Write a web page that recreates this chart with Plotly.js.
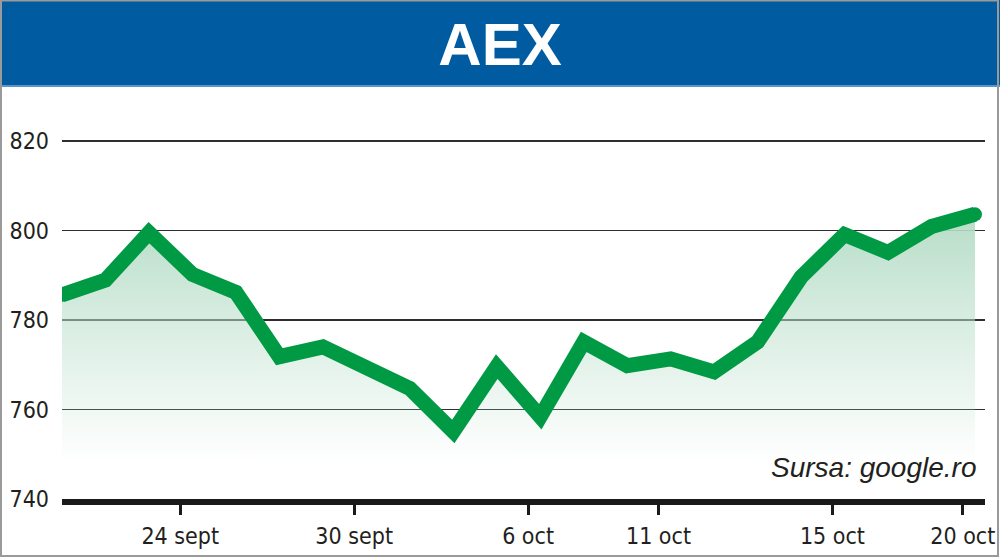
<!DOCTYPE html>
<html>
<head>
<meta charset="utf-8">
<script src="https://cdn.plot.ly/plotly-3.0.1.min.js"></script>
<style>html,body{margin:0;padding:0;background:#fff;}#chart{width:1000px;height:557px;}</style>
</head>
<body>
<div id="chart"></div>
<script>
var dates = ['21 sept','22 sept','23 sept','24 sept','27 sept','28 sept','29 sept','30 sept',
             '1 oct','4 oct','5 oct','6 oct','7 oct','8 oct',
             '11 oct','12 oct','13 oct','14 oct','15 oct',
             '18 oct','19 oct','20 oct'];
var values = [785.6, 788.9, 799.5, 790.2, 786.2, 771.8, 774.0, 769.4,
              764.7, 755.1, 769.6, 758.4, 775.1, 769.8,
              771.3, 768.4, 775.1, 789.6, 799.1,
              795.1, 800.9, 803.6];
var xTicks = ['24 sept','30 sept','6 oct','11 oct','15 oct','20 oct'];
var yTicks = [740, 760, 780, 800, 820];

var W = 1000, H = 557;
var tickPos = xTicks.map(function (t) { return dates.indexOf(t) - 0.28; });
var labelFont = {family: 'DejaVu Sans Condensed, Liberation Sans Narrow, sans-serif', size: 23, color: '#231f20'};

var trace = {
  x: dates, y: values, type: 'scatter', mode: 'lines+markers',
  line: {color: '#009a44', width: 15},
  marker: {color: '#009a44', size: 14},
  fill: 'tozeroy',
  fillgradient: {type: 'vertical', start: 748, stop: 806,
    colorscale: [[0, 'rgba(186,223,202,0)'], [1, 'rgba(180,220,198,1)']]},
  hoverinfo: 'skip'
};
var layout = {
  width: W, height: H,
  margin: {l: 0, r: 0, t: 0, b: 0},
  paper_bgcolor: '#fff', plot_bgcolor: 'rgba(0,0,0,0)',
  showlegend: false,
  title: {text: '<b>AEX</b>', x: 0.5, xanchor: 'center', y: 1 - 44 / H, yanchor: 'middle',
          font: {family: 'Liberation Sans, Arial, sans-serif', size: 60, color: '#ffffff'}},
  xaxis: {
    type: 'category', domain: [62 / W, 985 / W], range: [0, 21.23],
    tickmode: 'array', tickvals: tickPos, ticktext: xTicks,
    showgrid: false, zeroline: false,
    showline: true, linecolor: '#1a1a1a', linewidth: 6,
    ticks: 'outside', ticklen: 10, tickwidth: 3, tickcolor: '#1a1a1a',
    ticklabelstandoff: 1,
    tickfont: labelFont,
    fixedrange: true
  },
  yaxis: {
    domain: [1 - 499 / H, 1 - 132 / H], range: [740, 822],
    tickmode: 'array', tickvals: yTicks,
    showgrid: true, gridcolor: '#2e2e2e', gridwidth: 1.8,
    zeroline: false, showline: false, ticks: '',
    ticklabelstandoff: 12,
    tickfont: labelFont,
    fixedrange: true
  },
  shapes: [
    {type: 'rect', xref: 'paper', yref: 'paper', x0: 0, x1: 1, y0: 1 - 85 / H, y1: 1,
     fillcolor: '#005ba1', line: {width: 0}, layer: 'below'},
    {type: 'line', xref: 'paper', yref: 'paper', x0: 0, x1: 1, y0: 1 - 86 / H, y1: 1 - 86 / H,
     line: {color: '#5b95c9', width: 2}, layer: 'below'},
    {type: 'rect', xref: 'paper', yref: 'paper', x0: 0.001, x1: 0.998, y0: 0.002, y1: 0.999,
     fillcolor: 'rgba(0,0,0,0)', line: {color: '#9a9a9a', width: 2}, layer: 'above'}
  ],
  annotations: [
    {xref: 'paper', yref: 'paper', x: 978 / W, y: 1 - 485 / H, xanchor: 'right', yanchor: 'bottom',
     text: '<i>Sursa: google.ro</i>', showarrow: false,
     font: {family: 'Liberation Sans, Arial, sans-serif', size: 28, color: '#231f20'}}
  ]
};
Plotly.newPlot('chart', [trace], layout, {displayModeBar: false, staticPlot: true});
</script>
</body>
</html>
